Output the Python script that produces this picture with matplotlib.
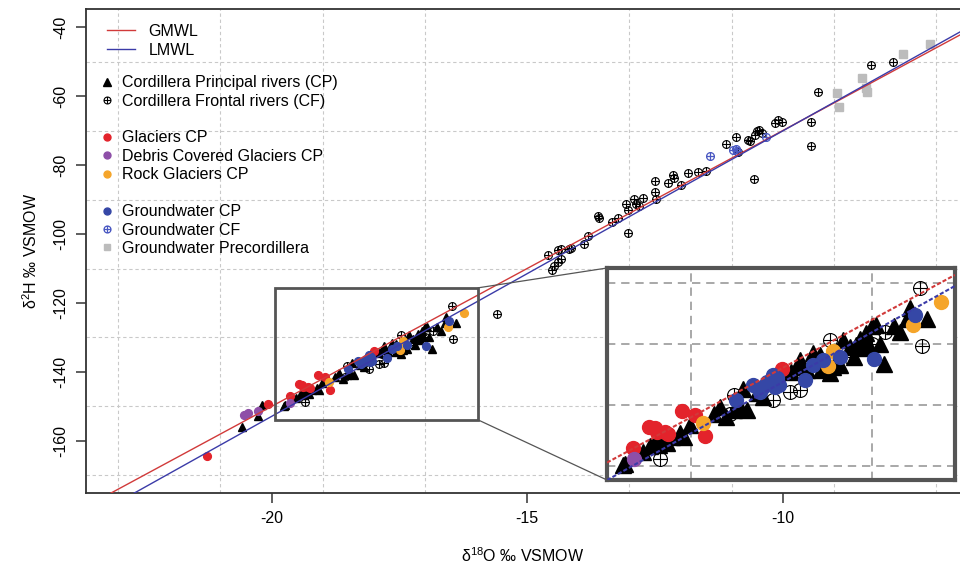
import numpy as np
import matplotlib
matplotlib.use("Agg")
import matplotlib.pyplot as plt
from matplotlib.lines import Line2D
from matplotlib.path import Path
from matplotlib.patches import Rectangle, ConnectionPatch

plt.rcParams['font.family'] = ['Liberation Sans', 'DejaVu Sans']
plt.rcParams['font.size'] = 11.5
plt.rcParams['axes.unicode_minus'] = False

# meteoric water lines: d2H = slope * d18O + intercept
gmwl_slope, gmwl_int = 8.0, 10.0
lmwl_slope, lmwl_int = 8.28, 12.7

# Cordillera Principal rivers (CP)
cp_x = [-20.57, -20.18, -20.26, -19.73, -19.75, -19.53, -19.45, -19.40, -19.36, -19.31, -19.27,
        -19.21, -19.12, -19.08, -19.01, -18.75, -18.68, -18.61, -18.53, -18.46, -18.38, -18.42,
        -18.27, -18.20, -17.98, -17.89, -17.83, -17.79, -17.72, -17.65, -17.57, -17.56, -17.46,
        -17.43, -17.35, -17.32, -17.24, -17.17, -17.13, -17.09, -17.06, -17.04, -17.00, -16.95,
        -16.91, -16.87, -16.76, -16.69, -16.61, -16.58, -16.39, -17.20]
cp_y = [-156.1, -149.7, -152.8, -149.7, -149.9, -147.7, -146.8, -146.0, -146.6, -145.7, -146.3,
        -145.2, -144.6, -145.2, -143.3, -141.4, -140.3, -141.9, -140.8, -140.3, -140.8, -137.3,
        -138.1, -138.6, -134.2, -134.5, -133.7, -132.6, -134.2, -131.5, -131.8, -134.2, -134.8,
        -133.7, -133.4, -129.3, -130.4, -130.1, -129.1, -130.7, -128.2, -129.9, -127.1, -126.9,
        -129.9, -133.2, -127.1, -128.0, -125.8, -124.1, -125.8, -132.1]

# Cordillera Frontal rivers (CF)
cf_x = [-14.59, -14.39, -14.33, -14.18, -14.15, -14.52, -14.48, -14.39, -14.34, -13.89, -13.80,
        -13.61, -13.60, -13.33, -13.22, -13.03, -13.07, -13.02, -12.90, -12.87, -12.81, -12.73,
        -12.50, -12.50, -12.47, -12.24, -12.15, -12.12, -11.98, -11.85, -11.65, -11.49, -11.11,
        -10.91, -10.87, -10.67, -10.63, -10.54, -10.51, -10.46, -10.41, -10.56, -10.15, -10.10,
        -10.02, -9.45, -9.45, -9.30, -8.27, -7.85, -15.59,
        -19.34, -18.53, -18.57, -18.09, -17.90, -17.79, -17.83, -17.46, -17.24, -17.00, -16.85,
        -16.47, -16.45]
cf_y = [-106.0, -104.6, -104.4, -104.4, -104.1, -110.4, -109.4, -108.0, -107.3, -102.9, -100.5,
        -94.7, -95.4, -96.6, -95.4, -99.7, -91.2, -93.0, -89.9, -91.2, -92.0, -89.6,
        -84.7, -87.9, -89.9, -85.2, -82.8, -83.8, -85.7, -82.3, -82.0, -81.8, -73.9,
        -71.7, -76.3, -72.6, -73.1, -71.2, -70.2, -69.7, -70.7, -84.1, -67.8, -67.0,
        -67.6, -67.6, -74.4, -58.8, -51.1, -50.1, -123.1,
        -148.8, -138.4, -141.4, -139.2, -137.8, -137.5, -134.8, -129.3, -132.1, -129.9, -128.0,
        -120.8, -130.3]

# Glaciers CP
gl_x = [-21.26, -20.07, -19.64, -19.47, -19.40, -19.38, -19.29, -19.25, -19.10, -18.96, -18.85, -17.99]
gl_y = [-164.3, -149.3, -147.1, -143.6, -143.8, -144.4, -144.4, -144.7, -140.9, -141.6, -145.1, -134.0]

# Debris Covered Glaciers CP
deb_x = [-20.54, -20.46, -20.26, -19.63]
deb_y = [-152.5, -152.0, -151.3, -148.9]

# Rock Glaciers CP
rock_x = [-18.87, -17.43, -17.48, -16.54, -16.23]
rock_y = [-143.0, -131.1, -133.6, -126.9, -123.0]

# Groundwater CP
gwcp_x = [-18.50, -18.31, -18.24, -18.20, -18.16, -18.09, -18.07, -18.05, -18.03, -17.74, -17.65,
          -17.54, -17.35, -16.98, -16.52]
gwcp_y = [-139.1, -136.7, -137.8, -137.0, -136.2, -135.1, -137.0, -135.6, -136.7, -135.9, -133.4,
          -132.6, -132.1, -132.5, -125.2]

# Groundwater CF
gwcf_x = [-11.42, -10.98, -10.91, -10.89, -10.33]
gwcf_y = [-77.3, -75.7, -75.3, -76.0, -71.7]

# Groundwater Precordillera
gwpre_x = [-8.94, -8.90, -8.455, -8.36, -8.34, -7.65, -7.12]
gwpre_y = [-59.1, -63.0, -54.7, -57.6, -58.9, -47.7, -44.8]

# zoom window
zoom_xlim = (-19.93, -16.08)
zoom_ylim = (-152.3, -117.5)
box_x = (-19.94, -15.96)
box_y = (-153.9, -115.6)

red_col = '#e3232b'
purple_col = '#8e4fa8'
orange_col = '#f5a52a'
blue_col = '#3547a6'
blue2_col = '#4a58c2'
grey_col = '#bcbcbc'
gmwl_col = '#d13a3a'
lmwl_col = '#3b3ba8'

# circle with a plus (like R pch=10)
circ = Path.unit_circle()
plus = Path([(-1, 0), (1, 0), (0, -1), (0, 1)],
            [Path.MOVETO, Path.LINETO, Path.MOVETO, Path.LINETO])
cplus = Path.make_compound_path(circ, plus)


def draw_points(ax, s):
    ax.plot(cp_x, cp_y, ls='none', marker='^', ms=s * 1.15, mfc='black', mec='black', zorder=3)
    ax.plot(cf_x, cf_y, ls='none', marker=cplus, ms=s, mfc='none', mec='black', mew=0.8, zorder=4)
    ax.plot(gl_x, gl_y, ls='none', marker='o', ms=s, mfc=red_col, mec=red_col, zorder=5)
    ax.plot(deb_x, deb_y, ls='none', marker='o', ms=s, mfc=purple_col, mec=purple_col, zorder=5)
    ax.plot(rock_x, rock_y, ls='none', marker='o', ms=s, mfc=orange_col, mec=orange_col, zorder=5)
    ax.plot(gwcp_x, gwcp_y, ls='none', marker='o', ms=s, mfc=blue_col, mec=blue_col, zorder=5)
    ax.plot(gwcf_x, gwcf_y, ls='none', marker=cplus, ms=s, mfc='none', mec=blue2_col, mew=0.9, zorder=5)
    ax.plot(gwpre_x, gwpre_y, ls='none', marker='s', ms=s * 0.95, mfc=grey_col, mec=grey_col, zorder=5)


fig = plt.figure(figsize=(9.6, 5.7), dpi=100)
ax = fig.add_axes([86 / 960, (570 - 493.3) / 570, 874 / 960, 484 / 570])

ax.set_xlim(-23.63, -6.53)
ax.set_ylim(-175.2, -34.8)
ax.set_xticks([-20, -15, -10])
ax.set_yticks([-160, -140, -120, -100, -80, -60, -40])
ax.set_xticks(np.arange(-23, -6, 2), minor=True)
ax.set_yticks(np.arange(-170, -35, 10), minor=True)
ax.grid(which='minor', color='#c9c9c9', ls=(0, (3, 2.5)), lw=0.8)
ax.tick_params(which='minor', length=0)
ax.tick_params(which='major', length=7, width=1.1, color='#333333', pad=6)
for lab in ax.get_yticklabels():
    lab.set_rotation(90)
    lab.set_va('center')
for side in ['left', 'bottom', 'top']:
    ax.spines[side].set_color('#333333')
    ax.spines[side].set_linewidth(1.3)
ax.spines['right'].set_visible(False)

ax.set_xlabel(r'$\mathregular{\delta^{18}}$O ‰ VSMOW', labelpad=14)
ax.set_ylabel(r'$\mathregular{\delta^{2}}$H ‰ VSMOW', labelpad=9)

draw_points(ax, 5.6)
lx = np.array(ax.get_xlim())
ax.plot(lx, gmwl_slope * lx + gmwl_int, color=gmwl_col, lw=1.0, zorder=6)
ax.plot(lx, lmwl_slope * lx + lmwl_int, color=lmwl_col, lw=1.0, zorder=6)

# zoom box on main plot
ax.add_patch(Rectangle((box_x[0], box_y[0]), box_x[1] - box_x[0], box_y[1] - box_y[0],
                       fill=False, ec='#555555', lw=2.0, zorder=7))

# legends
line_h = [Line2D([], [], color=gmwl_col, lw=1.0), Line2D([], [], color=lmwl_col, lw=1.0)]
leg1 = ax.legend(line_h, ['GMWL', 'LMWL'], loc='upper left', bbox_to_anchor=(0.024, 0.97),
                 frameon=False, borderpad=0, borderaxespad=0, handlelength=1.75,
                 handletextpad=0.85, labelspacing=0.25)
ax.add_artist(leg1)

blank = Line2D([], [], ls='none')
pt_h = [Line2D([], [], ls='none', marker='^', ms=6, mfc='black', mec='black'),
        Line2D([], [], ls='none', marker=cplus, ms=5, mfc='none', mec='black', mew=0.8),
        blank,
        Line2D([], [], ls='none', marker='o', ms=5, mfc=red_col, mec=red_col),
        Line2D([], [], ls='none', marker='o', ms=5, mfc=purple_col, mec=purple_col),
        Line2D([], [], ls='none', marker='o', ms=5, mfc=orange_col, mec=orange_col),
        blank,
        Line2D([], [], ls='none', marker='o', ms=5, mfc=blue_col, mec=blue_col),
        Line2D([], [], ls='none', marker=cplus, ms=5, mfc='none', mec=blue2_col, mew=0.9),
        Line2D([], [], ls='none', marker='s', ms=5, mfc=grey_col, mec=grey_col)]
pt_l = ['Cordillera Principal rivers (CP)', 'Cordillera Frontal rivers (CF)', ' ',
        'Glaciers CP', 'Debris Covered Glaciers CP', 'Rock Glaciers CP', ' ',
        'Groundwater CP', 'Groundwater CF', 'Groundwater Precordillera']
ax.legend(pt_h, pt_l, loc='upper left', bbox_to_anchor=(0.0195, 0.864), frameon=False,
          borderpad=0, borderaxespad=0, handlelength=0.5, handletextpad=0.7, labelspacing=0.215)

# inset
axi = fig.add_axes([607 / 960, (570 - 480) / 570, 348 / 960, 212 / 570])
axi.set_xlim(*zoom_xlim)
axi.set_ylim(*zoom_ylim)
axi.set_xticks([-19, -17])
axi.set_yticks([-150, -140, -130, -120])
axi.tick_params(length=0, labelbottom=False, labelleft=False)
axi.grid(color='#9a9a9a', ls=(0, (5, 3.5)), lw=1.2)
for sp in axi.spines.values():
    sp.set_color('#555555')
    sp.set_linewidth(3)
draw_points(axi, 10)
ix = np.array(zoom_xlim)
axi.plot(ix, gmwl_slope * ix + gmwl_int, color=gmwl_col, lw=1.5, ls=(0, (2, 1)), zorder=6)
axi.plot(ix, lmwl_slope * ix + lmwl_int, color=lmwl_col, lw=1.5, ls=(0, (2, 1)), zorder=6)

# connector lines
for ya, yb in [(box_y[1], 1), (box_y[0], 0)]:
    con = ConnectionPatch(xyA=(box_x[1], ya), coordsA=ax.transData,
                          xyB=(0, yb), coordsB=axi.transAxes, color='#555555', lw=0.9)
    fig.add_artist(con)

fig.savefig('out.png', dpi=100)
